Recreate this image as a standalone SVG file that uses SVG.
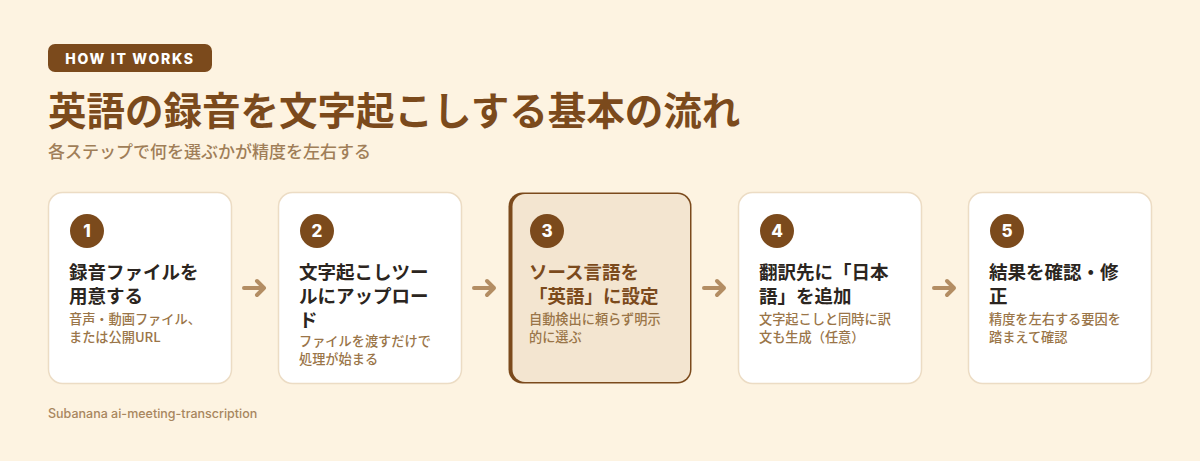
<svg xmlns="http://www.w3.org/2000/svg" width="1200" height="461" viewBox="0 0 1200 461">
<defs>
<style>
.jp{font-family:"Noto Sans CJK JP","Noto Sans",sans-serif}
.card{fill:#ffffff;stroke:#ecdcc4;stroke-width:1.5}
.num{fill:#7b4a1c}
.numt{font-family:Inter,"Liberation Sans",sans-serif;font-weight:800;font-size:17px;fill:#ffffff;text-anchor:middle}
.t{font-family:"Noto Sans CJK JP",sans-serif;font-weight:700;font-size:18.5px;fill:#2b2520}
.d{font-family:"Noto Sans CJK JP",sans-serif;font-weight:500;font-size:13.2px;fill:#9a7548}
.arr{stroke:#b38d63;stroke-width:4;fill:none;stroke-linecap:round;stroke-linejoin:round}
</style>
</defs>
<rect width="1200" height="461" fill="#fdf3e1"/>
<g id="header">
<rect x="48" y="44" width="164" height="28" rx="7" fill="#7b4a1c"/>
<text x="130" y="63.5" text-anchor="middle" font-family="Inter,'Liberation Sans',sans-serif" font-weight="800" font-size="14" letter-spacing="1.7" fill="#ffffff">HOW IT WORKS</text>
<text x="48" y="125" class="jp" font-weight="700" font-size="38.5" fill="#7b4a1c">英語の録音を文字起こしする基本の流れ</text>
<text x="48" y="158" class="jp" font-weight="500" font-size="17" fill="#a07e58">各ステップで何を選ぶかが精度を左右する</text>
</g>
<g id="connectors">
<g class="arr"><path d="M244 288H264M257 281L264 288L257 295"/></g>
<g class="arr"><path d="M474 288H494M487 281L494 288L487 295"/></g>
<g class="arr"><path d="M704 288H724M717 281L724 288L717 295"/></g>
<g class="arr"><path d="M934 288H954M947 281L954 288L947 295"/></g>
</g>
<g id="step1">
<rect class="card" x="48.5" y="192.5" width="183" height="191" rx="14"/>
<circle class="num" cx="87" cy="231" r="17"/><text class="numt" x="87" y="237">1</text>
<text class="t" x="69" y="279">録音ファイルを</text>
<text class="t" x="69" y="303">用意する</text>
<text class="d" x="69" y="324">音声・動画ファイル、</text>
<text class="d" x="69" y="342">または公開URL</text>
</g>
<g id="step2">
<rect class="card" x="278.5" y="192.5" width="183" height="191" rx="14"/>
<circle class="num" cx="317" cy="231" r="17"/><text class="numt" x="317" y="237">2</text>
<text class="t" x="299" y="279">文字起こしツー</text>
<text class="t" x="299" y="303">ルにアップロー</text>
<text class="t" x="299" y="327">ド</text>
<text class="d" x="299" y="346">ファイルを渡すだけで</text>
<text class="d" x="299" y="364">処理が始まる</text>
</g>
<g id="step3">
<rect x="508.5" y="192.5" width="183" height="191" rx="14" fill="#7b4a1c"/>
<rect x="512.5" y="194" width="177.5" height="188" rx="12.5" fill="#f3e5d0"/>
<circle class="num" cx="547" cy="231" r="17"/><text class="numt" x="547" y="237">3</text>
<text class="t" x="529" y="279" style="fill:#7b4a1c">ソース言語を</text>
<text class="t" x="529" y="303" style="fill:#7b4a1c">「英語」に設定</text>
<text class="d" x="529" y="324">自動検出に頼らず明示</text>
<text class="d" x="529" y="342">的に選ぶ</text>
</g>
<g id="step4">
<rect class="card" x="738.5" y="192.5" width="183" height="191" rx="14"/>
<circle class="num" cx="777" cy="231" r="17"/><text class="numt" x="777" y="237">4</text>
<text class="t" x="759" y="279">翻訳先に「日本</text>
<text class="t" x="759" y="303">語」を追加</text>
<text class="d" x="759" y="324">文字起こしと同時に訳</text>
<text class="d" x="759" y="342">文も生成（任意）</text>
</g>
<g id="step5">
<rect class="card" x="968.5" y="192.5" width="183" height="191" rx="14"/>
<circle class="num" cx="1007" cy="231" r="17"/><text class="numt" x="1007" y="237">5</text>
<text class="t" x="989" y="279">結果を確認・修</text>
<text class="t" x="989" y="303">正</text>
<text class="d" x="989" y="324">精度を左右する要因を</text>
<text class="d" x="989" y="342">踏まえて確認</text>
</g>
<text x="48" y="418" font-family="Inter,'Liberation Sans',sans-serif" font-weight="500" font-size="12.5" fill="#a8865e">Subanana ai-meeting-transcription</text>
</svg>
